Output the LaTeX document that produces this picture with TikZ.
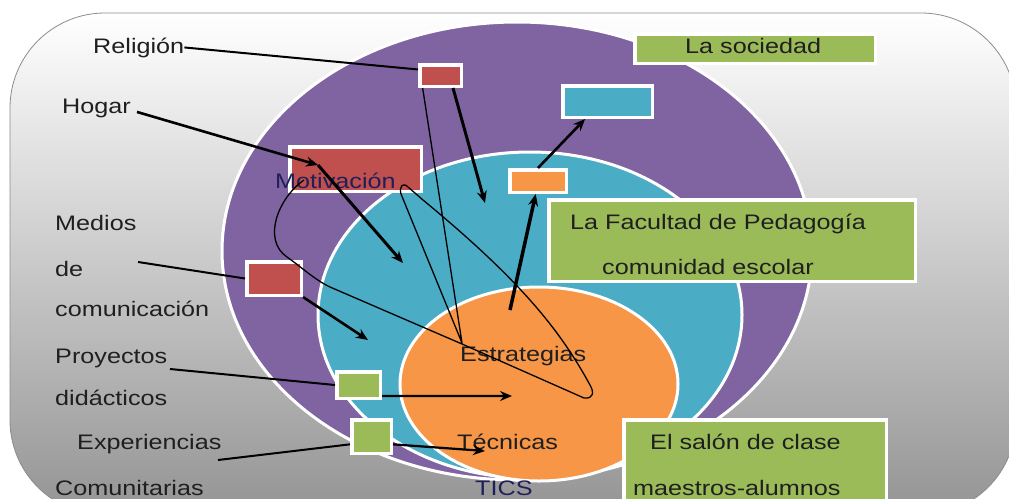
\documentclass[tikz,border=0pt]{standalone}
\usepackage{fontspec}
\setmainfont{Liberation Sans}[FakeStretch=1.2]
\usetikzlibrary{arrows.meta}
\definecolor{morado}{HTML}{8064A2}
\definecolor{turquesa}{HTML}{4BACC6}
\definecolor{naranja}{HTML}{F79646}
\definecolor{rojo}{HTML}{C0504D}
\definecolor{verde}{HTML}{9BBB59}
\definecolor{marino}{HTML}{1F1F5A}

\begin{document}
\begin{tikzpicture}[x=1pt, y=-1pt,
    etiqueta/.style={font=\fontsize{21}{25}\selectfont, inner sep=0pt, text=black!88, anchor=base west},
    caja/.style={fill=#1, draw=white, line width=3.5pt, inner sep=0pt},
    linea/.style={line width=2pt},
    flecha/.style={line width=2.6pt, -{Stealth[length=12pt,width=10pt]}}]
		\useasboundingbox (0,0) rectangle (1009,498);
		\clip (0,0) rectangle (1009,498);
		% fondo
		\shade[top color=white, middle color=black!13, bottom color=black!42,
		draw=black!45, line width=0.8pt, rounded corners=95pt] (10,13) rectangle (1016,515);
		% circulos
		\draw[fill=morado, draw=white, line width=3pt] (517,251) ellipse [x radius=295, y radius=229];
		\draw[fill=turquesa, draw=white, line width=3pt] (530,315) ellipse [x radius=212, y radius=163];
		\draw[fill=naranja, draw=white, line width=3pt] (539,384) ellipse [x radius=139, y radius=97];
		
		% cajas
		\node[caja=rojo, minimum width=41.5pt, minimum height=21.5pt] (relbox) at (440.5,75.5) {};
		\node[caja=rojo, minimum width=131.5pt, minimum height=44.5pt] (motbox) at (355.5,169) {};
		\node[caja=rojo, minimum width=54.5pt, minimum height=33.5pt] (medbox) at (274,278.5) {};
		\node[caja=verde, minimum width=43.5pt, minimum height=26.5pt] (proybox) at (358.5,385) {};
		\node[caja=verde, minimum width=39.5pt, minimum height=33.5pt] (expbox) at (371.5,436.5) {};
		\node[caja=verde, minimum width=240.5pt, minimum height=29.5pt] (socbox) at (755,48.5) {};
		\node[caja=turquesa, minimum width=89.5pt, minimum height=31.5pt] (tealbox) at (607.5,101.5) {};
		\node[caja=naranja, minimum width=56.5pt, minimum height=22.5pt] (orgbox) at (538,181) {};
		\node[caja=verde, minimum width=366.5pt, minimum height=81.5pt] (facbox) at (732,240.5) {};
		\node[caja=verde, minimum width=262.5pt, minimum height=93.5pt] (salbox) at (755,466.5) {};
		
		% textos
		\node[etiqueta] (religion) at (93,53) {Religión};
		\node[etiqueta] (hogar) at (62,113) {Hogar};
		\node[etiqueta] (medios) at (55,230) {Medios};
		\node[etiqueta] (de) at (55,276) {de};
		\node[etiqueta] (comunic) at (55,316) {comunicación};
		\node[etiqueta] (proyectos) at (55,363) {Proyectos};
		\node[etiqueta] (didact) at (55,405) {didácticos};
		\node[etiqueta] (experien) at (77,449) {Experiencias};
		\node[etiqueta] (comunit) at (55,495) {Comunitarias};
		\node[etiqueta, text=marino] (motiv) at (275,188) {Motivación};
		\node[etiqueta] (estrat) at (460,361) {Estrategias};
		\node[etiqueta] (tecnic) at (457,449) {Técnicas};
		\node[etiqueta, text=marino] (tics) at (475,495) {TICS};
		\node[etiqueta] (socied) at (685,53) {La sociedad};
		\node[etiqueta] (facult) at (570,229) {La Facultad de Pedagogía};
		\node[etiqueta] (comesc) at (602,274) {comunidad escolar};
		\node[etiqueta] (salon) at (650,449) {El salón de clase};
		\node[etiqueta] (maestr) at (633,495) {maestros-alumnos};
		
		% puntos libres
		\coordinate (hogarfin) at (318,165);
		\coordinate (motivfin) at (403,263);
		\coordinate (relfin) at (485,203);
		\coordinate (mediosini) at (138,262);
		\coordinate (mediosfin) at (368,340);
		\coordinate (proyini) at (170,369);
		\coordinate (proyfin) at (512,396);
		\coordinate (expini) at (218,460);
		\coordinate (expfin) at (485,451);
		\coordinate (estratini) at (510,310);
		
		\draw[linea] (religion.east) -- (relbox.165);
		\draw[flecha] ([xshift=6pt,yshift=-4pt]hogar.east) -- (hogarfin);
		\draw[flecha, line width=3pt] (hogarfin) -- (motivfin);
		\draw[flecha, line width=3pt] (relbox.-45) -- (relfin);
		\draw[linea] (mediosini) -- (medbox.west);
		\draw[flecha] (medbox.south east) -- (mediosfin);
		\draw[linea] (proyini) -- (proybox.west);
		\draw[flecha, line width=2.2pt] (proybox.-25) -- (proyfin);
		\draw[linea] (expini) -- (expbox.200);
		\draw[flecha, line width=2.2pt] (expbox.-20) -- (expfin);
		\draw[flecha, line width=3.5pt] (estratini) -- (orgbox.-100);
		\draw[flecha] (orgbox.north) -- (tealbox.-142);
		
		% garabato
		\draw[line width=1.3pt, line join=round]
		(304,180) .. controls (278,198) and (262,240) .. (287,257)
		.. controls (300,266) and (315,280) .. (330,287) -- (462,344) -- (584,398)
		.. controls (594,399) and (594,392) .. (590,385)
		.. controls (560,330) and (520,280) .. (423,200) -- (408,187)
		.. controls (403,182) and (399,186) .. (401,194) -- (462,343) -- (relbox.-145);
\end{tikzpicture}
\end{document}
